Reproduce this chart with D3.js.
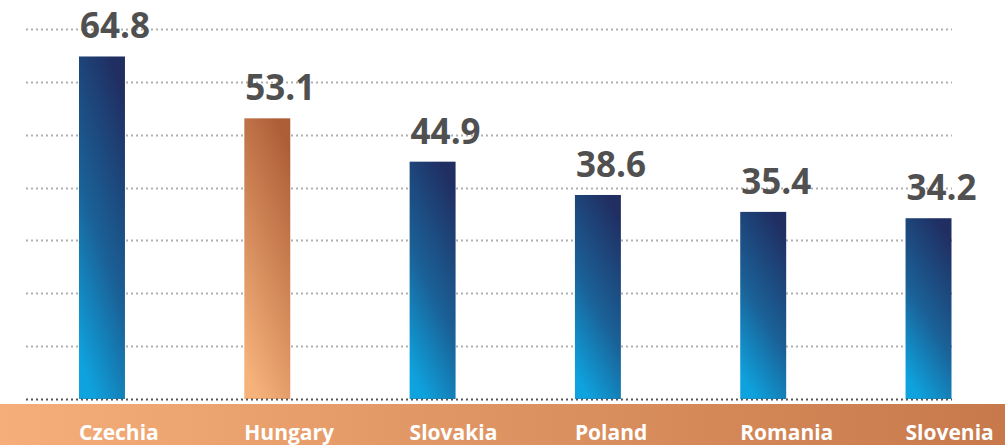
<!DOCTYPE html>
<html><head><meta charset="utf-8">
<script src="https://cdn.jsdelivr.net/npm/d3@7"></script>
<style>html,body{margin:0;padding:0;background:#fff;overflow:hidden}</style>
</head><body>
<svg id="c" width="1005" height="445"></svg>
<script>
const categories = ["Czechia","Hungary","Slovakia","Poland","Romania","Slovenia"];
const values = [64.8, 53.1, 44.9, 38.6, 35.4, 34.2];
const highlight = ["Hungary"];
const gridTicks = [10,20,30,40,50,60,70];

const svg = d3.select("#c");
const W = 1005, H = 445;
const x = d3.scaleBand().domain(categories).range([79, 951.5]).paddingInner(0.722).paddingOuter(0);
const y = d3.scaleLinear().domain([0,70]).range([399, 29]);

const defs = svg.append("defs");
const gb = defs.append("linearGradient").attr("id","gBlue").attr("x1","0.3").attr("y1","1").attr("x2","0.7").attr("y2","0");
gb.append("stop").attr("offset","0").attr("stop-color","#0ea3de");
gb.append("stop").attr("offset","0.45").attr("stop-color","#1a6197");
gb.append("stop").attr("offset","1").attr("stop-color","#202e62");
const go = defs.append("linearGradient").attr("id","gOrange").attr("x1","0.3").attr("y1","1").attr("x2","0.7").attr("y2","0");
go.append("stop").attr("offset","0").attr("stop-color","#f6b27b");
go.append("stop").attr("offset","1").attr("stop-color","#ae5e37");
const gband = defs.append("linearGradient").attr("id","gBand").attr("x1","0").attr("y1","0").attr("x2","1").attr("y2","0");
gband.append("stop").attr("offset","0").attr("stop-color","#f5ae79");
gband.append("stop").attr("offset","1").attr("stop-color","#c7794b");

// bottom band
svg.append("rect").attr("x",0).attr("y",404).attr("width",W).attr("height",H-404).attr("fill","url(#gBand)");

// gridlines
svg.append("g").selectAll("line").data(gridTicks).join("line")
  .attr("x1",26).attr("x2",952).attr("y1",d=>Math.round(y(d))+0.5).attr("y2",d=>Math.round(y(d))+0.5)
  .attr("stroke","#b0b0b0").attr("stroke-width",2).attr("stroke-dasharray","2,3");

// bars
svg.append("g").selectAll("rect").data(categories).join("rect")
  .attr("x",d=>x(d)).attr("width",x.bandwidth())
  .attr("y",(d,i)=>y(values[i])).attr("height",(d,i)=>y(0)-y(values[i]))
  .attr("fill",d=>highlight.includes(d)?"url(#gOrange)":"url(#gBlue)");

// baseline
svg.append("line").attr("x1",26).attr("x2",952).attr("y1",399.5).attr("y2",399.5)
  .attr("stroke","#555").attr("stroke-width",2).attr("stroke-dasharray","2,3");

// value labels
svg.append("g").selectAll("text").data(categories).join("text")
  .attr("x",d=>x(d)+1).attr("y",(d,i)=>y(values[i])-18)
  .attr("font-family","'Open Sans', sans-serif").attr("font-weight",700).attr("font-size",35)
  .attr("fill","#505050").text((d,i)=>values[i].toFixed(1));

// category labels
svg.append("g").selectAll("text").data(categories).join("text")
  .attr("x",d=>x(d)).attr("y",440)
  .attr("font-family","'Open Sans', sans-serif").attr("font-weight",700).attr("font-size",21)
  .attr("fill","#fff").text(d=>d);
</script>
</body></html>
